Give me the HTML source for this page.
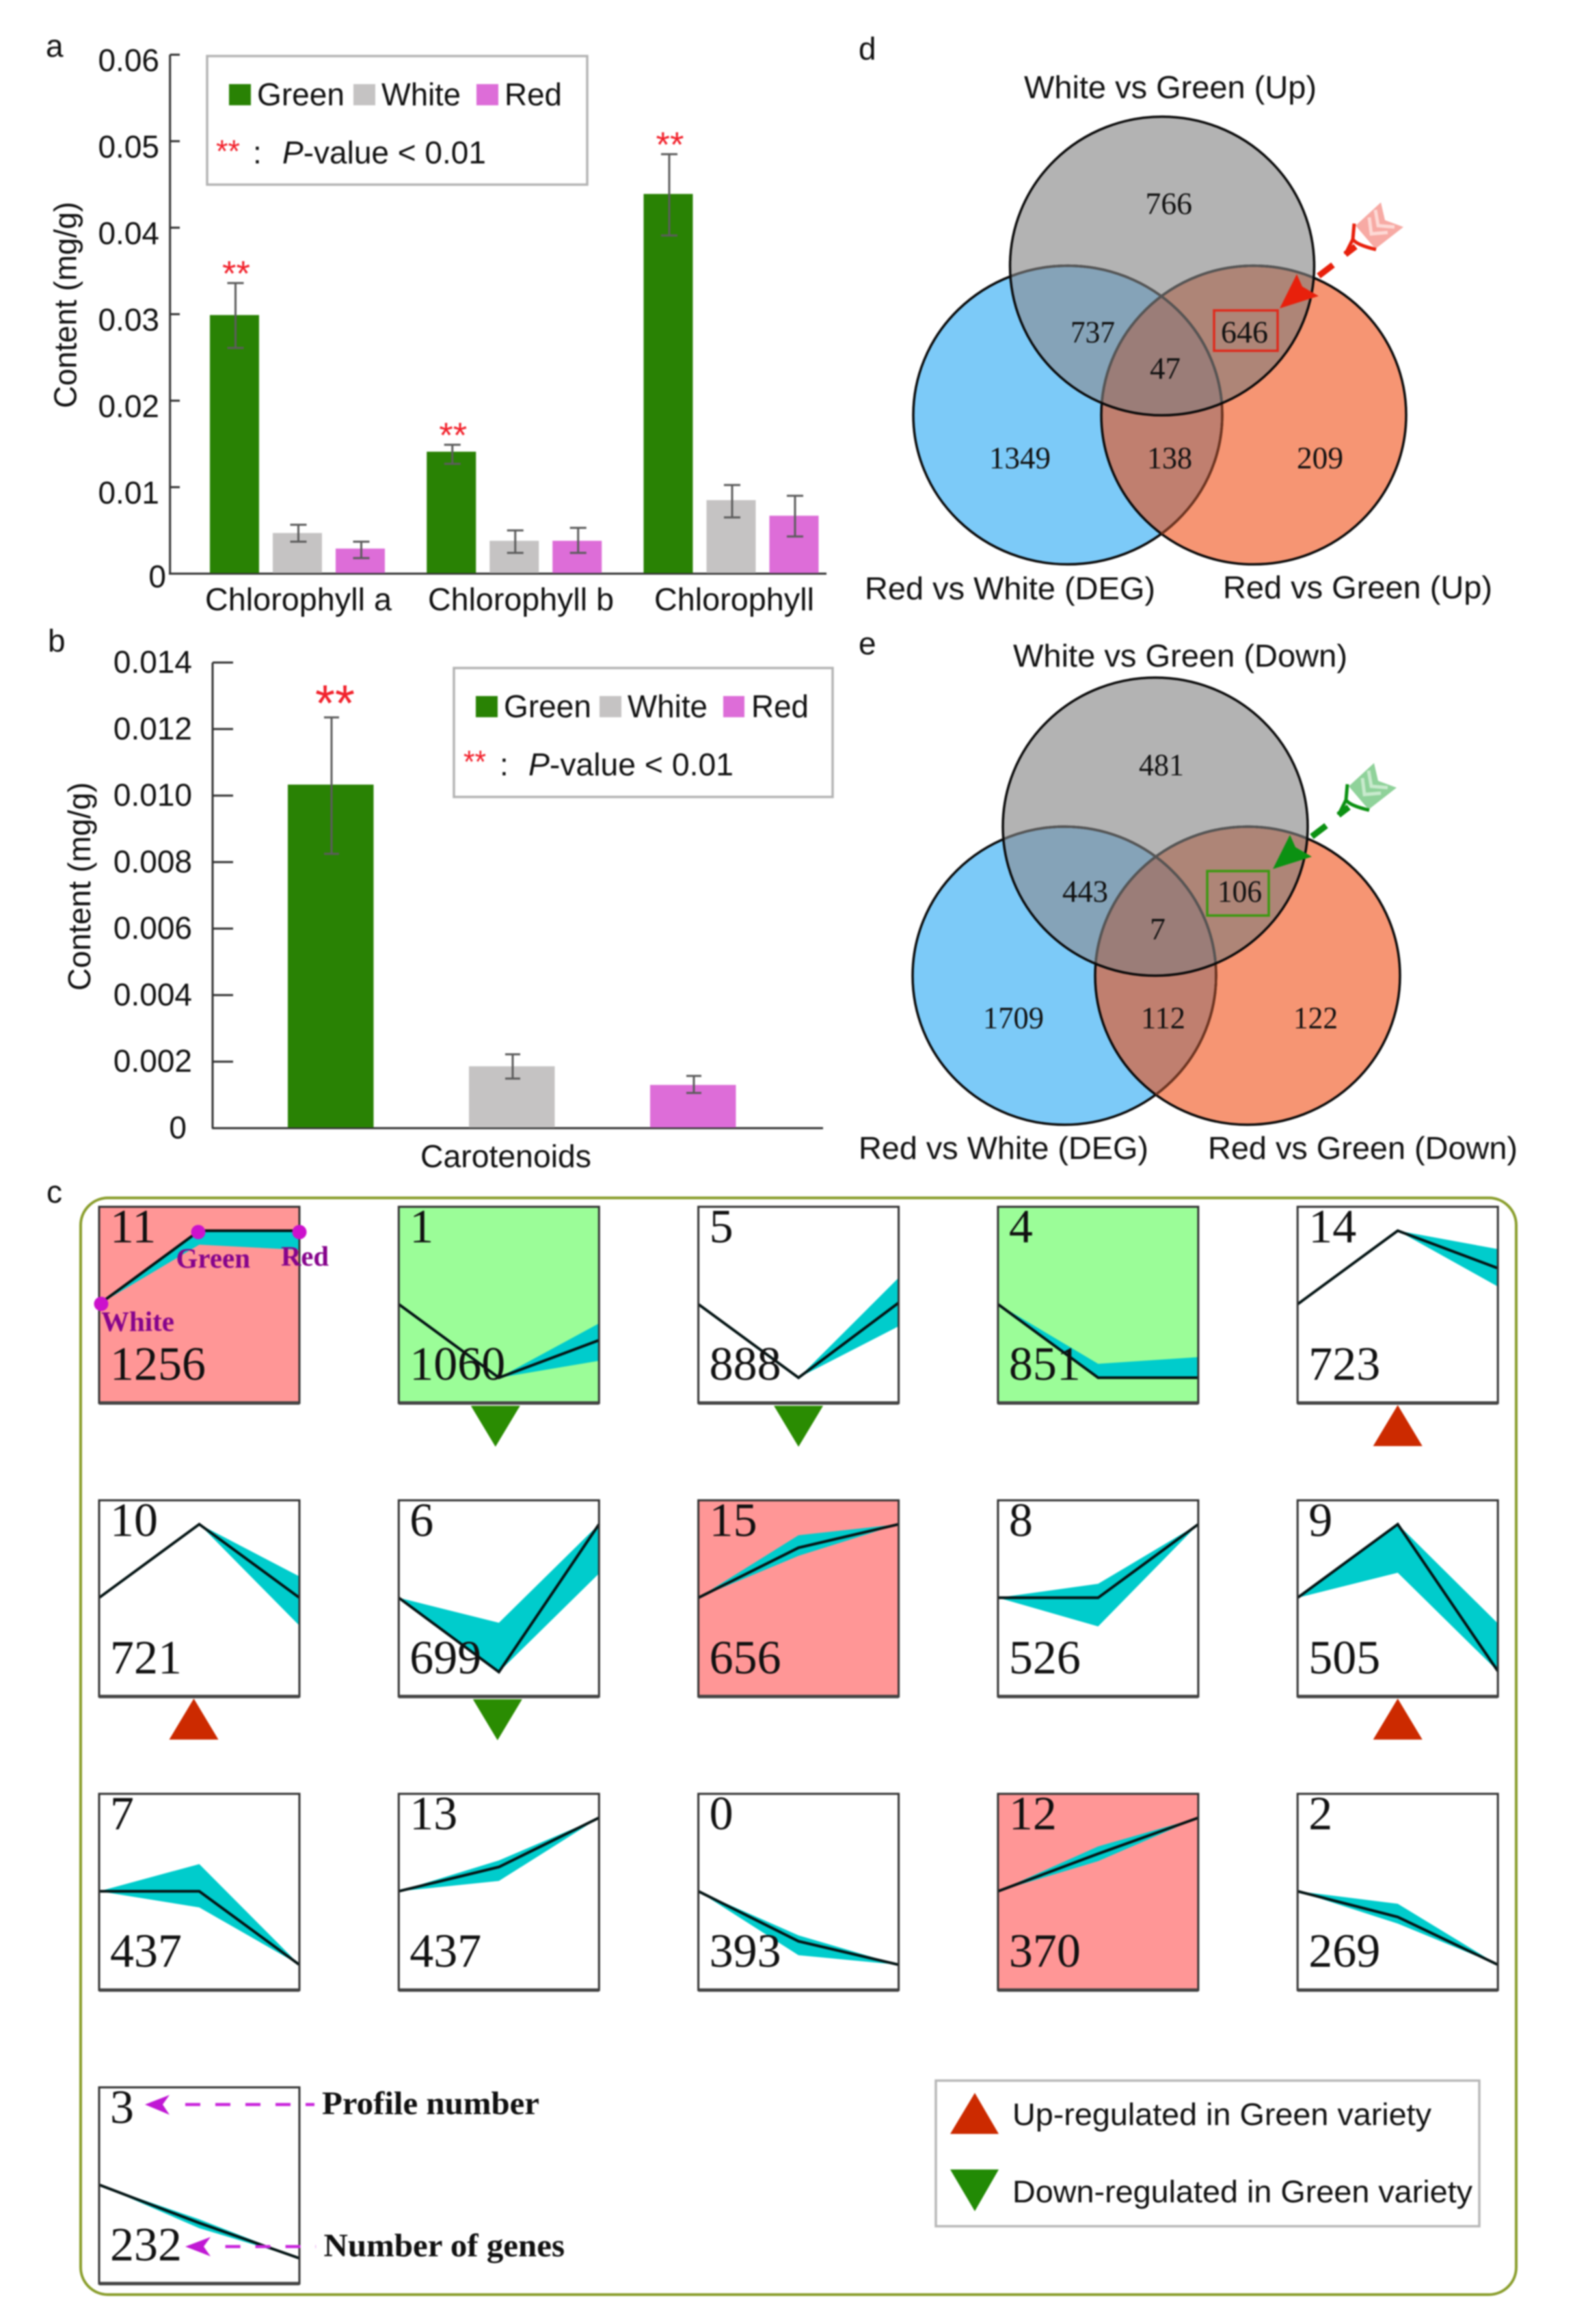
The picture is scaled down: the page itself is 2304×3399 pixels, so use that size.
<!DOCTYPE html>
<html lang="en">
<head>
<meta charset="utf-8">
<title>Pigment content, expression profiles and DEG Venn diagrams</title>
<style>
html,body{margin:0;padding:0;background:#fff;}
svg{display:block;filter:blur(1.1px);}
text{font-family:"Liberation Sans",sans-serif;fill:#111;font-size:46px;}
.sf{font-family:"Liberation Serif",serif;}
.star{fill:#f2222c;}
</style>
</head>
<body>
<svg id="fig" xmlns="http://www.w3.org/2000/svg" width="2304" height="3399" viewBox="0 0 2304 3399">
<rect x="0" y="0" width="2304" height="3399" fill="#fff"/>
<defs>
<clipPath id="dG"><ellipse cx="1700" cy="389" rx="222.5" ry="218.4"/></clipPath>
<clipPath id="dB"><ellipse cx="1562" cy="607" rx="226" ry="218.4"/></clipPath>
<clipPath id="dO"><ellipse cx="1834" cy="607" rx="223" ry="218.4"/></clipPath>
<clipPath id="eG"><ellipse cx="1690" cy="1209" rx="223" ry="218"/></clipPath>
<clipPath id="eB"><ellipse cx="1557" cy="1427" rx="222" ry="218"/></clipPath>
<clipPath id="eO"><ellipse cx="1825" cy="1427" rx="223" ry="218"/></clipPath>
</defs>

<!-- panel letters -->
<text x="67" y="83">a</text>
<text x="70" y="953">b</text>
<text x="68" y="1759">c</text>
<text x="1256" y="87">d</text>
<text x="1256" y="957">e</text>

<!-- panel a statics -->
<g id="chartA">
<text transform="translate(111.6,597) rotate(-90)" textLength="302" lengthAdjust="spacingAndGlyphs">Content (mg/g)</text>
</g>
<g>
<rect x="303" y="82" width="556" height="188" fill="#fff" stroke="#b4b4b4" stroke-width="3.5"/>
<rect x="335" y="123" width="32" height="31" fill="#298204"/>
<text x="376" y="154" textLength="128" lengthAdjust="spacingAndGlyphs">Green</text>
<rect x="517" y="123" width="32" height="31" fill="#c5c3c3"/>
<text x="558" y="154" textLength="116" lengthAdjust="spacingAndGlyphs">White</text>
<rect x="697" y="123" width="32" height="31" fill="#dd6dd8"/>
<text x="738" y="154" textLength="84" lengthAdjust="spacingAndGlyphs">Red</text>
<text class="star" x="316" y="237" style="font-size:46px" textLength="35" lengthAdjust="spacingAndGlyphs">**</text>
<text x="370" y="239">:</text>
<text x="413" y="239" textLength="298" lengthAdjust="spacingAndGlyphs"><tspan font-style="italic">P</tspan>-value &lt; 0.01</text>
</g>

<!-- panel b statics -->
<g id="chartB">
<text transform="translate(132,1449) rotate(-90)" textLength="305" lengthAdjust="spacingAndGlyphs">Content (mg/g)</text>
</g>
<g>
<rect x="664" y="977" width="554" height="188.6" fill="#fff" stroke="#b4b4b4" stroke-width="3.5"/>
<rect x="696" y="1018" width="32" height="31" fill="#298204"/>
<text x="737" y="1049" textLength="128" lengthAdjust="spacingAndGlyphs">Green</text>
<rect x="877" y="1018" width="32" height="31" fill="#c5c3c3"/>
<text x="918" y="1049" textLength="117" lengthAdjust="spacingAndGlyphs">White</text>
<rect x="1058" y="1018" width="31" height="31" fill="#dd6dd8"/>
<text x="1099" y="1049" textLength="84" lengthAdjust="spacingAndGlyphs">Red</text>
<text class="star" x="678" y="1130" style="font-size:46px" textLength="33" lengthAdjust="spacingAndGlyphs">**</text>
<text x="731" y="1134">:</text>
<text x="773" y="1134" textLength="300" lengthAdjust="spacingAndGlyphs"><tspan font-style="italic">P</tspan>-value &lt; 0.01</text>
</g>

<!-- Venn d -->
<g>
<text x="1498" y="143.5" textLength="428" lengthAdjust="spacingAndGlyphs">White vs Green (Up)</text>
<ellipse cx="1562" cy="607" rx="226" ry="218.4" fill="#7ccaf8"/>
<ellipse cx="1834" cy="607" rx="223" ry="218.4" fill="#f69573"/>
<ellipse cx="1834" cy="607" rx="223" ry="218.4" fill="#c07f6f" clip-path="url(#dB)"/>
<ellipse cx="1700" cy="389" rx="222.5" ry="218.4" fill="#b3b3b3"/>
<ellipse cx="1562" cy="607" rx="226" ry="218.4" fill="#85a3b8" clip-path="url(#dG)"/>
<ellipse cx="1834" cy="607" rx="223" ry="218.4" fill="#ae8577" clip-path="url(#dG)"/>
<g clip-path="url(#dG)"><ellipse cx="1834" cy="607" rx="223" ry="218.4" fill="#9b7d78" clip-path="url(#dB)"/></g>
<g fill="none" stroke-width="3.5">
<ellipse cx="1562" cy="607" rx="226" ry="218.4" stroke="#0a0a0a"/>
<ellipse cx="1834" cy="607" rx="223" ry="218.4" stroke="#0a0a0a"/>
<ellipse cx="1562" cy="607" rx="226" ry="218.4" stroke="#6d3420" clip-path="url(#dO)"/>
<g clip-path="url(#dG)">
<ellipse cx="1562" cy="607" rx="226" ry="218.4" stroke="#555"/>
<ellipse cx="1834" cy="607" rx="223" ry="218.4" stroke="#555"/>
</g>
<ellipse cx="1700" cy="389" rx="222.5" ry="218.4" stroke="#0a0a0a"/>
</g>
<g class="vn">
<text class="sf" x="1675.5" y="313" textLength="68.5" lengthAdjust="spacingAndGlyphs">766</text>
<text class="sf" x="1566" y="501" textLength="65" lengthAdjust="spacingAndGlyphs">737</text>
<text class="sf" x="1786" y="501" textLength="69" lengthAdjust="spacingAndGlyphs">646</text>
<text class="sf" x="1682" y="554" textLength="45" lengthAdjust="spacingAndGlyphs">47</text>
<text class="sf" x="1447" y="685" textLength="90" lengthAdjust="spacingAndGlyphs">1349</text>
<text class="sf" x="1678" y="685" textLength="66" lengthAdjust="spacingAndGlyphs">138</text>
<text class="sf" x="1897" y="685" textLength="68" lengthAdjust="spacingAndGlyphs">209</text>
</g>
<rect x="1776" y="454" width="93" height="59" fill="none" stroke="#e02a1c" stroke-width="3.5"/>
<text x="1265" y="876.5" textLength="425" lengthAdjust="spacingAndGlyphs">Red vs White (DEG)</text>
<text x="1789" y="875" textLength="394" lengthAdjust="spacingAndGlyphs">Red vs Green (Up)</text>
<g>
<polygon points="1872,451 1897,401 1905,419 1929,433" fill="#e8200c"/>
<path d="M1929,403.5L1950,387.5M1968,372L1983,360.5" stroke="#e8200c" stroke-width="9" fill="none"/>
<polygon points="2020,296 2026,322 2053,332 2012,364 1983,330" fill="#f7aaa4"/>
<path d="M2003,318L2006,342L2030,340M2012,307L2016,330L2040,332" stroke="#fdd9d5" stroke-width="5" fill="none"/>
<path d="M1981,327L1979,350Q1984,358 2013,365M1979,350L1968,372" stroke="#e8200c" stroke-width="5" fill="none"/>
</g>
</g>

<!-- Venn e -->
<g>
<text x="1482" y="975" textLength="489" lengthAdjust="spacingAndGlyphs">White vs Green (Down)</text>
<ellipse cx="1557" cy="1427" rx="222" ry="218" fill="#7ccaf8"/>
<ellipse cx="1825" cy="1427" rx="223" ry="218" fill="#f69573"/>
<ellipse cx="1825" cy="1427" rx="223" ry="218" fill="#c07f6f" clip-path="url(#eB)"/>
<ellipse cx="1690" cy="1209" rx="223" ry="218" fill="#b3b3b3"/>
<ellipse cx="1557" cy="1427" rx="222" ry="218" fill="#85a3b8" clip-path="url(#eG)"/>
<ellipse cx="1825" cy="1427" rx="223" ry="218" fill="#ae8577" clip-path="url(#eG)"/>
<g clip-path="url(#eG)"><ellipse cx="1825" cy="1427" rx="223" ry="218" fill="#9b7d78" clip-path="url(#eB)"/></g>
<g fill="none" stroke-width="3.5">
<ellipse cx="1557" cy="1427" rx="222" ry="218" stroke="#0a0a0a"/>
<ellipse cx="1825" cy="1427" rx="223" ry="218" stroke="#0a0a0a"/>
<ellipse cx="1557" cy="1427" rx="222" ry="218" stroke="#6d3420" clip-path="url(#eO)"/>
<g clip-path="url(#eG)">
<ellipse cx="1557" cy="1427" rx="222" ry="218" stroke="#555"/>
<ellipse cx="1825" cy="1427" rx="223" ry="218" stroke="#555"/>
</g>
<ellipse cx="1690" cy="1209" rx="223" ry="218" stroke="#0a0a0a"/>
</g>
<text class="sf" x="1666" y="1134" textLength="66" lengthAdjust="spacingAndGlyphs">481</text>
<text class="sf" x="1554" y="1319" textLength="67" lengthAdjust="spacingAndGlyphs">443</text>
<text class="sf" x="1781" y="1319" textLength="65" lengthAdjust="spacingAndGlyphs">106</text>
<text class="sf" x="1682" y="1374">7</text>
<text class="sf" x="1438" y="1504" textLength="89" lengthAdjust="spacingAndGlyphs">1709</text>
<text class="sf" x="1669" y="1504" textLength="65" lengthAdjust="spacingAndGlyphs">112</text>
<text class="sf" x="1892" y="1504" textLength="65" lengthAdjust="spacingAndGlyphs">122</text>
<rect x="1766" y="1274" width="90" height="65" fill="none" stroke="#3a9a10" stroke-width="3.5"/>
<text x="1256" y="1695" textLength="424" lengthAdjust="spacingAndGlyphs">Red vs White (DEG)</text>
<text x="1767" y="1695" textLength="453" lengthAdjust="spacingAndGlyphs">Red vs Green (Down)</text>
<g transform="translate(-10,820)">
<polygon points="1872,451 1897,401 1905,419 1929,433" fill="#0b9112"/>
<path d="M1929,403.5L1950,387.5M1968,372L1983,360.5" stroke="#0b9112" stroke-width="9" fill="none"/>
<polygon points="2020,296 2026,322 2053,332 2012,364 1983,330" fill="#8fd29a"/>
<path d="M2003,318L2006,342L2030,340M2012,307L2016,330L2040,332" stroke="#c8eacd" stroke-width="5" fill="none"/>
<path d="M1981,327L1979,350Q1984,358 2013,365M1979,350L1968,372" stroke="#0b9112" stroke-width="5" fill="none"/>
</g>
</g>

<!-- panel c frame -->
<rect x="118" y="1752" width="2100" height="1604" rx="40" ry="40" fill="#fff" stroke="#8a9e2d" stroke-width="4"/>
<g id="profiles"></g>

<!-- profile 11 key -->
<g>
<circle cx="148" cy="1907" r="10.5" fill="#cc11cc"/>
<circle cx="290" cy="1802" r="10.5" fill="#cc11cc"/>
<circle cx="438" cy="1802" r="10.5" fill="#cc11cc"/>
<text class="sf" x="148" y="1946.5" font-weight="bold" style="font-size:41px;fill:#86048c" textLength="107" lengthAdjust="spacingAndGlyphs">White</text>
<text class="sf" x="257.5" y="1854" font-weight="bold" style="font-size:41px;fill:#86048c" textLength="108.5" lengthAdjust="spacingAndGlyphs">Green</text>
<text class="sf" x="411" y="1851" font-weight="bold" style="font-size:41px;fill:#86048c" textLength="70" lengthAdjust="spacingAndGlyphs">Red</text>
</g>

<!-- key on profile 3 -->
<g>
<polygon points="212,3078 248,3064 238,3078 248,3093" fill="#c018d4"/>
<line x1="271" y1="3078" x2="460" y2="3078" stroke="#c926dc" stroke-width="4.5" stroke-dasharray="22 22"/>
<text class="sf" x="471" y="3092" font-weight="bold" style="font-size:48px" textLength="318" lengthAdjust="spacingAndGlyphs">Profile number</text>
<polygon points="271,3285.7 308,3271.7 298,3285.7 308,3300" fill="#c018d4"/>
<line x1="329.6" y1="3285.7" x2="462" y2="3285.7" stroke="#c926dc" stroke-width="4.5" stroke-dasharray="22 22"/>
<text class="sf" x="473.5" y="3300" font-weight="bold" style="font-size:48px" textLength="352.5" lengthAdjust="spacingAndGlyphs">Number of genes</text>
</g>

<!-- regulation legend -->
<g>
<rect x="1369" y="3043" width="795" height="213" fill="#fff" stroke="#b8b8b8" stroke-width="3.5"/>
<polygon points="1426,3061 1390,3121 1461,3121" fill="#cc2a00"/>
<polygon points="1390,3173 1461,3173 1426,3234" fill="#228a05"/>
<text x="1481" y="3108" style="font-size:45px" textLength="613" lengthAdjust="spacingAndGlyphs">Up-regulated in Green variety</text>
<text x="1481" y="3221" style="font-size:45px" textLength="673" lengthAdjust="spacingAndGlyphs">Down-regulated in Green variety</text>
</g>
</svg>

<script>
/* ---------- chart a data ---------- */
const aCategories = ['Chlorophyll a', 'Chlorophyll b', 'Chlorophyll'];
const aTickValues = [0, 0.01, 0.02, 0.03, 0.04, 0.05, 0.06];
const aTickLabels = ['0', '0.01', '0.02', '0.03', '0.04', '0.05', '0.06'];
const aGreen = [0.0299, 0.0141, 0.0439];
const aGreenHi = [0.0336, 0.0149, 0.0485];
const aGreenLo = [0.0261, 0.0127, 0.0391];
const aWhite = [0.0047, 0.0038, 0.0085];
const aWhiteHi = [0.00565, 0.0050, 0.01025];
const aWhiteLo = [0.0037, 0.0024, 0.0065];
const aRed = [0.0029, 0.0038, 0.0067];
const aRedHi = [0.0037, 0.0053, 0.0090];
const aRedLo = [0.0018, 0.0024, 0.0043];

/* ---------- chart b data ---------- */
const bCategories = ['Carotenoids'];
const bTickValues = [0, 0.002, 0.004, 0.006, 0.008, 0.010, 0.012, 0.014];
const bTickLabels = ['0', '0.002', '0.004', '0.006', '0.008', '0.010', '0.012', '0.014'];
const bValues = [0.01033, 0.00186, 0.0013];
const bHi = [0.01235, 0.00222, 0.00157];
const bLo = [0.00825, 0.00149, 0.00106];

/* ---------- profile data (row order), values for White, Green, Red ---------- */
const profileIds = [11, 1, 5, 4, 14, 10, 6, 15, 8, 9, 7, 13, 0, 12, 2, 3];
const profileCounts = [1256, 1060, 888, 851, 723, 721, 699, 656, 526, 505, 437, 437, 393, 370, 269, 232];
const profileMedian = [
  [0, 1, 1], [0, -1, -0.49], [0, -1, 0.02], [0, -1, -1], [0, 1, 0.49],
  [0, 1, 0], [0, -1.01, 1], [0, 0.68, 1], [0, 0, 1], [0, 1, -1],
  [0, 0, -1], [0, 0.33, 1], [0, -0.68, -1], [0, 0.51, 1], [0, -0.35, -1],
  [0, -0.52, -1]
];
const profileUpper = [
  [0, 1, 1], [0, -1, -0.26], [0, -1, 0.36], [0, -0.81, -0.72], [0, 1, 0.75],
  [0, 1, 0.29], [0, -0.34, 1], [0, 0.85, 1], [0, 0.19, 1], [0, 1, -0.35],
  [0, 0.37, -1], [0, 0.42, 1], [0, -0.6, -1], [0, 0.61, 1], [0, -0.17, -1],
  [0, -0.47, -1]
];
const profileLower = [
  [0, 0.81, 0.74], [0, -1, -0.77], [0, -1, -0.3], [0, -1, -1], [0, 1, 0.24],
  [0, 1, -0.38], [0, -1.01, 0.33], [0, 0.57, 1], [0, -0.39, 1], [0, 0.34, -1],
  [0, -0.22, -1], [0, 0.14, 1], [0, -0.87, -1], [0, 0.41, 1], [0, -0.44, -1],
  [0, -0.59, -1]
];
const profileRedBg = [11, 15, 12];
const profileGreenBg = [1, 4];
const upProfiles = [14, 10, 9];
const downProfiles = [1, 5, 6];

/* ---------- helpers ---------- */
const NS = 'http://www.w3.org/2000/svg';
function mk(parent, tag, attrs, txt) {
  const n = document.createElementNS(NS, tag);
  for (const k in attrs) n.setAttribute(k, attrs[k]);
  if (txt !== undefined) n.textContent = txt;
  parent.appendChild(n);
  return n;
}

/* ---------- bar chart drawing ---------- */
const yA = v => 839 - v * 12650;
const groupA = i => 307 + i * 317.25;
const barWA = 72, stepA = 92;
const yB = v => 1650 - v * 48643;
const barXB = i => 421 + i * 265;

const gA = document.getElementById('chartA');
const gB = document.getElementById('chartB');

function axisA() {
  let el = mk(gA, 'line', {x1: 248.7, y1: yA(0.06), x2: 248.7, y2: yA(0), stroke: '#333', 'stroke-width': 3});
  
  
  el = mk(gA, 'line', {x1: 247, y1: yA(0), x2: 1209, y2: yA(0), stroke: '#333', 'stroke-width': 3});
  
  
  aTickValues.forEach((v, i) => {
    const t = mk(gA, 'line', {x1: 248.7, y1: yA(v), x2: 263, y2: yA(v), stroke: '#333', 'stroke-width': 3});
    
    
    const l = mk(gA, 'text', {x: v === 0 ? 243 : 233, y: yA(v) + (v === 0 ? 20 : 24), 'text-anchor': 'end'}, aTickLabels[i]);
    
    
  });
  const widths = [273, 272, 234];
  const starts = [300, 626, 957];
  aCategories.forEach((c, i) => {
    const l = mk(gA, 'text', {x: starts[i], y: 892.5, textLength: widths[i], lengthAdjust: 'spacingAndGlyphs'}, c);
    
    
  });
}
axisA();

function errBar(g, cx, hi, lo, cap) {
  const e = mk(g, 'path', {
    d: 'M' + (cx - cap) + ',' + hi + 'H' + (cx + cap) + 'M' + cx + ',' + hi + 'V' + lo + 'M' + (cx - cap) + ',' + lo + 'H' + (cx + cap),
    stroke: '#5c5c5c', 'stroke-width': 3, fill: 'none'
  });
  
  
}

const seriesA = [
  {v: aGreen, hi: aGreenHi, lo: aGreenLo, c: '#298204'},
  {v: aWhite, hi: aWhiteHi, lo: aWhiteLo, c: '#c5c3c3'},
  {v: aRed, hi: aRedHi, lo: aRedLo, c: '#dd6dd8'}
];
seriesA.forEach((s, si) => {
  s.v.forEach((val, i) => {
    const x = groupA(i) + si * stepA;
    const b = mk(gA, 'rect', {x: x, y: yA(val), width: barWA, height: yA(0) - yA(val) - 1, fill: s.c});
    
    
    errBar(gA, x + barWA / 2 + 1.5, yA(s.hi[i]), yA(s.lo[i]), 12);
    if (si === 0) {
      const st = mk(gA, 'text', {class: 'star', x: x + 18, y: yA(s.hi[i]) + 4, style: 'font-size:52px', textLength: 41, lengthAdjust: 'spacingAndGlyphs'}, '**');
      
      
    }
  });
});

function axisB() {
  let el = mk(gB, 'line', {x1: 311, y1: yB(0.014), x2: 311, y2: yB(0), stroke: '#333', 'stroke-width': 3});
  
  
  el = mk(gB, 'line', {x1: 310, y1: yB(0), x2: 1204, y2: yB(0), stroke: '#333', 'stroke-width': 3});
  
  
  bTickValues.forEach((v, i) => {
    const t = mk(gB, 'line', {x1: 311, y1: yB(v), x2: 341, y2: yB(v), stroke: '#333', 'stroke-width': 3});
    
    
    const l = mk(gB, 'text', {x: v === 0 ? 273 : 281, y: yB(v) + 15, 'text-anchor': 'end'}, bTickLabels[i]);
    
    
  });
  const l = mk(gB, 'text', {x: 615, y: 1707, textLength: 250, lengthAdjust: 'spacingAndGlyphs'}, bCategories[0]);
  
  
}
axisB();

const colorsB = ['#298204', '#c5c3c3', '#dd6dd8'];
bValues.forEach((val, i) => {
  const x = barXB(i);
  const b = mk(gB, 'rect', {x: x, y: yB(val), width: 125.5, height: yB(0) - yB(val) - 1, fill: colorsB[i]});
  
  
  errBar(gB, x + 64, yB(bHi[i]), yB(bLo[i]), 11);
  if (i === 0) {
    const st = mk(gB, 'text', {class: 'star', x: x + 40, y: yB(bHi[i]) + 5, style: 'font-size:75px', textLength: 58, lengthAdjust: 'spacingAndGlyphs'}, '**');
    
    
  }
});

/* ---------- profile panels ---------- */
const gP = document.getElementById('profiles');
const boxW = 293, boxH = 287;
const colLeft = i => 145 + i * 438.3;
const rowTop = j => 1765 + j * 429.3;
const xP = (left, k) => left + k * boxW / 2;
const yP = (top, v) => top + 142.5 - 107.5 * v;

profileIds.forEach((id, n) => {
  const left = colLeft(n % 5), top = rowTop(Math.floor(n / 5));
  let bg = '#fff';
  if (profileRedBg.includes(id)) bg = '#ff9696';
  if (profileGreenBg.includes(id)) bg = '#9bfd98';
  const r = mk(gP, 'rect', {x: left, y: top, width: boxW, height: boxH, fill: bg});
  
  

  const up = profileUpper[n].map((v, k) => xP(left, k) + ',' + yP(top, v));
  const lo = profileLower[n].map((v, k) => xP(left, k) + ',' + yP(top, v)).reverse();
  const band = mk(gP, 'polygon', {points: up.concat(lo).join(' '), fill: '#00cccc'});
  
  

  const line = mk(gP, 'polyline', {points: profileMedian[n].map((v, k) => xP(left, k) + ',' + yP(top, v)).join(' '), fill: 'none', stroke: '#041414', 'stroke-width': 4});
  
  

  const idT = mk(gP, 'text', {class: 'sf', x: left + 16, y: top + 52, style: 'font-size:70px'}, String(id));
  
  
  const cT = mk(gP, 'text', {class: 'sf', x: left + 16, y: top + 253, style: 'font-size:70px'}, String(profileCounts[n]));
  
  

  const border = mk(gP, 'rect', {x: left, y: top, width: boxW, height: boxH, fill: 'none', stroke: '#333', 'stroke-width': 3});
  
  
  const bt = mk(gP, 'line', {x1: left, y1: top + boxH, x2: left + boxW, y2: top + boxH, stroke: '#444', 'stroke-width': 5});
  
  

  const cx = left + boxW / 2 + (id === 10 ? -8 : (id === 1 ? -5 : (id === 6 ? -2 : 0)));
  const by = top + boxH;
  if (upProfiles.includes(id)) {
    const tri = mk(gP, 'polygon', {points: cx + ',' + (by + 3) + ' ' + (cx - 36) + ',' + (by + 63) + ' ' + (cx + 36) + ',' + (by + 63), fill: '#cc2a00'});
    
    
  }
  if (downProfiles.includes(id)) {
    const tri = mk(gP, 'polygon', {points: (cx - 36) + ',' + (by + 4) + ' ' + (cx + 36) + ',' + (by + 4) + ' ' + cx + ',' + (by + 64), fill: '#2a8c02'});
    
    
  }
});
</script>
</body>
</html>
